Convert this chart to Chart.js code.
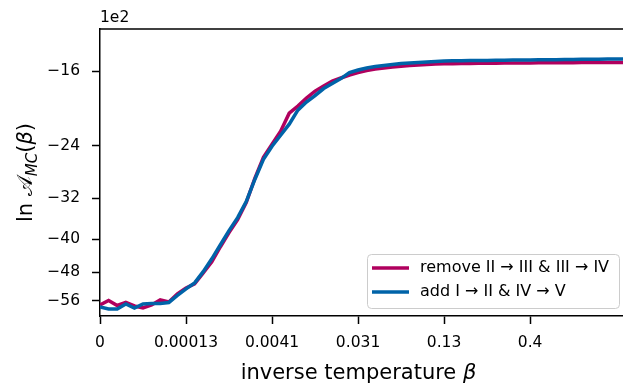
<!DOCTYPE html>
<html>
<head>
<meta charset="utf-8">
<script src="https://cdn.jsdelivr.net/npm/chart.js@4"></script>
<style>
  body { margin: 0; background: #fff; }
  #wrap { width: 623px; height: 388px; }
</style>
</head>
<body>
<div id="wrap"><canvas id="myChart"></canvas></div>
<script>
// beta axis: one tick label every 10 sampled points
const xTickLabels = ['0', '0.00013', '0.0041', '0.031', '0.13', '0.4'];
const pointsPerTick = 10;
// y ticks, in units of 1e2
const yTicks = [-16, -24, -32, -40, -48, -56];

// ln A_MC(beta), units of 1e2
const removeVals = [
  -57.35, -55.95, -57.50, -56.56, -57.66, -58.30, -57.35, -55.79, -56.41, -53.99,
  -52.24, -51.10, -48.10, -45.30, -41.72, -38.63, -35.97, -32.77, -28.73, -25.60,
  -23.84, -22.20, -20.11, -19.35, -18.52, -17.83, -17.34, -16.87, -16.60, -16.33,
  -16.11, -15.93, -15.80, -15.71, -15.63, -15.56, -15.51, -15.46, -15.41, -15.38,
  -15.36, -15.35, -15.34, -15.33, -15.32, -15.31, -15.31, -15.30, -15.30, -15.29,
  -15.29, -15.28, -15.28, -15.27, -15.27, -15.27, -15.26, -15.26, -15.25, -15.25,
  -15.24, -15.24
];
const addVals = [
  -57.98, -58.62, -58.62, -57.03, -58.30, -57.03, -56.87, -56.87, -56.56, -54.43,
  -52.52, -50.83, -47.80, -44.56, -41.26, -38.21, -35.58, -32.59, -28.89, -25.89,
  -24.10, -22.69, -21.36, -19.78, -18.93, -18.27, -17.58, -17.11, -16.65, -16.11,
  -15.89, -15.71, -15.58, -15.50, -15.41, -15.33, -15.29, -15.25, -15.20, -15.16,
  -15.12, -15.11, -15.10, -15.09, -15.08, -15.08, -15.07, -15.06, -15.05, -15.05,
  -15.04, -15.03, -15.02, -15.02, -15.01, -15.00, -14.99, -14.99, -14.98, -14.97,
  -14.96, -14.96
];

const seriesLabels = ['remove II \u2192 III & III \u2192 IV', 'add I \u2192 II & IV \u2192 V'];
const MAGENTA = '#b0005e';
const BLUE = '#0063a8';
const FONT = 'DejaVu Sans';

// y axis is log of |ln A|, shown reversed
const toPts = vals => vals.map((v, i) => ({ x: i / pointsPerTick, y: -v }));

// spine on top, offset text, axis titles, framed legend
const decor = {
  id: 'decor',
  afterDraw(chart) {
    const { ctx, chartArea: a } = chart;
    ctx.save();
    ctx.strokeStyle = '#000';
    ctx.lineWidth = 1.5;
    ctx.beginPath();
    ctx.moveTo(a.left - 0.75, a.top);
    ctx.lineTo(a.right, a.top);
    ctx.stroke();

    ctx.fillStyle = '#000';
    ctx.textBaseline = 'middle';
    ctx.textAlign = 'left';
    ctx.font = '15.5px "' + FONT + '"';
    ctx.fillText('1e2', a.left, a.top - 11);

    // x title
    ctx.textBaseline = 'alphabetic';
    const t1 = 'inverse temperature ';
    ctx.font = '21px "' + FONT + '"';
    const w1 = ctx.measureText(t1).width;
    ctx.font = 'italic 21px "' + FONT + '"';
    const w2 = ctx.measureText('\u03b2').width;
    let x = (a.left + a.right) / 2 - 3 - (w1 + w2) / 2;
    ctx.font = '21px "' + FONT + '"';
    ctx.fillText(t1, x, 379);
    ctx.font = 'italic 21px "' + FONT + '"';
    ctx.fillText('\u03b2', x + w1, 379);

    // y title, rotated
    const parts = [
      ['ln ', '21px', 0],
      ['\ud835\udc9c', '21px', 0],
      ['MC', 'italic 15px', 5],
      ['(', '21px', 0],
      ['\u03b2', 'italic 21px', 0],
      [')', '21px', 0]
    ];
    let total = 0;
    parts.forEach(p => { ctx.font = p[1] + ' "' + FONT + '"'; p.push(ctx.measureText(p[0]).width); total += p[3]; });
    ctx.translate(32, (a.top + a.bottom) / 2);
    ctx.rotate(-Math.PI / 2);
    let px = -total / 2;
    parts.forEach(p => {
      ctx.font = p[1] + ' "' + FONT + '"';
      ctx.fillText(p[0], px, p[2]);
      px += p[3];
    });
    ctx.setTransform(1, 0, 0, 1, 0, 0);

    // legend
    const bw = 252, bh = 54;
    const bx = a.right - 4 - bw, by = a.bottom - 8 - bh;
    ctx.beginPath();
    ctx.roundRect(bx + 0.5, by + 0.5, bw, bh, 4);
    ctx.fillStyle = 'rgba(255,255,255,0.85)';
    ctx.fill();
    ctx.strokeStyle = '#cccccc';
    ctx.lineWidth = 1;
    ctx.stroke();
    ctx.font = '16px "' + FONT + '"';
    ctx.textBaseline = 'middle';
    chart.data.datasets.forEach((ds, i) => {
      const ly = by + 14 + i * 24;
      ctx.strokeStyle = ds.borderColor;
      ctx.lineWidth = 3.5;
      ctx.beginPath();
      ctx.moveTo(bx + 5, ly);
      ctx.lineTo(bx + 42, ly);
      ctx.stroke();
      ctx.fillStyle = '#000';
      ctx.fillText(ds.label, bx + 53, ly);
    });
    ctx.restore();
  }
};

const config = {
  type: 'line',
  data: {
    datasets: [
      { label: seriesLabels[0], data: toPts(removeVals), borderColor: MAGENTA, order: 1 },
      { label: seriesLabels[1], data: toPts(addVals), borderColor: BLUE, order: 0 }
    ]
  },
  options: {
    responsive: true,
    maintainAspectRatio: false,
    animation: false,
    parsing: false,
    elements: {
      line: { borderWidth: 3.5, tension: 0, fill: false },
      point: { radius: 0 }
    },
    layout: { padding: { top: 29, left: 0, right: 0, bottom: 0 } },
    plugins: { legend: { display: false }, tooltip: { enabled: false } },
    scales: {
      x: {
        type: 'linear',
        min: 0,
        max: 6.08,
        afterBuildTicks: s => { s.ticks = xTickLabels.map((_, i) => ({ value: i })); },
        afterFit: s => { s.height = 72; },
        ticks: {
          callback: (v, i) => xTickLabels[i],
          color: '#000',
          padding: 10,
          maxRotation: 0,
          font: { family: FONT, size: 15.5 }
        },
        grid: { drawOnChartArea: false, drawTicks: true, tickLength: 8, tickColor: '#000', tickWidth: 1.5 },
        border: { display: true, color: '#000', width: 1.5 }
      },
      y: {
        type: 'logarithmic',
        reverse: true,
        min: 12.7,
        max: 60.9,
        afterBuildTicks: s => { s.ticks = yTicks.map(v => ({ value: -v })); },
        afterFit: s => { s.width = 100; },
        ticks: {
          callback: v => '\u2212' + v,
          color: '#000',
          padding: 12,
          font: { family: FONT, size: 15.5 }
        },
        grid: { drawOnChartArea: false, drawTicks: true, tickLength: 8, tickColor: '#000', tickWidth: 1.5 },
        border: { display: true, color: '#000', width: 1.5 }
      }
    }
  },
  plugins: [decor]
};

const ctx = document.getElementById('myChart').getContext('2d');
const myChart = new Chart(ctx, config);
</script>
</body>
</html>
